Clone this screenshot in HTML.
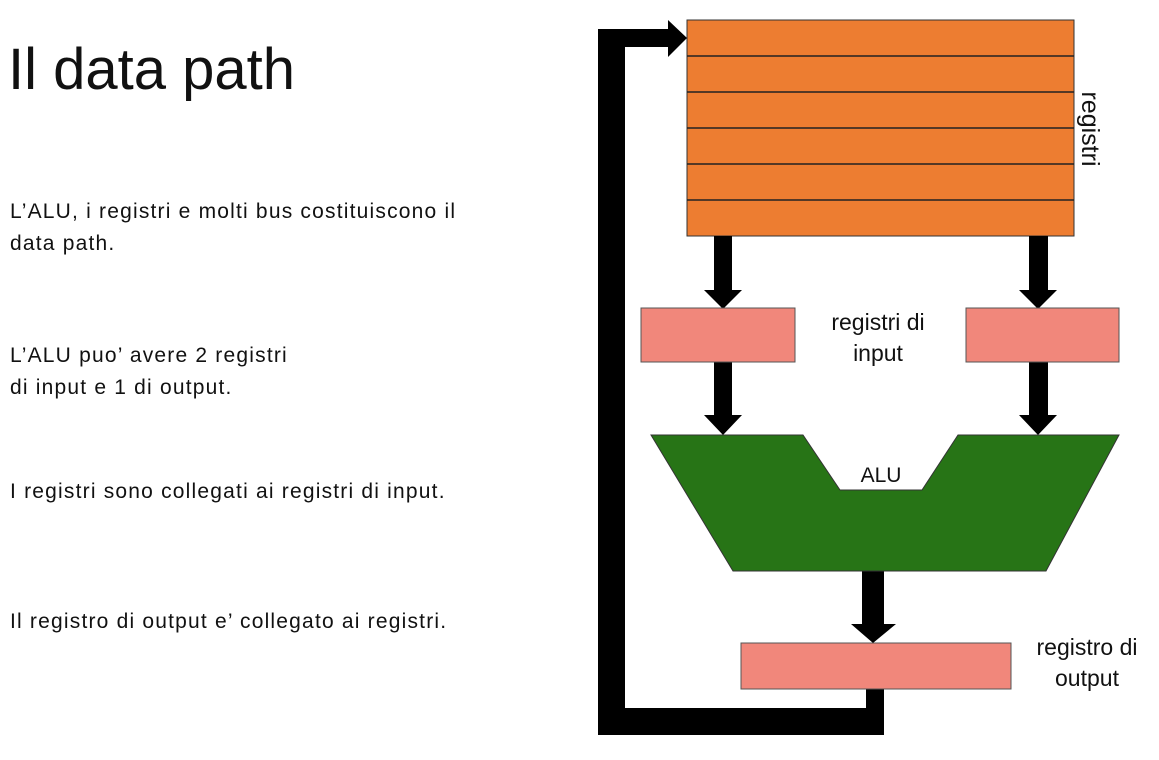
<!DOCTYPE html>
<html><head><meta charset="utf-8"><style>
body{margin:0;width:1159px;height:760px;background:#fff;position:relative;overflow:hidden;font-family:"Liberation Sans",sans-serif;color:#111}
.t{position:absolute;white-space:nowrap}
.b{font-size:21px;line-height:32px;letter-spacing:1.2px}
</style></head><body>
<div class="t" style="left:8px;top:36px;font-size:58px;font-weight:300;letter-spacing:0px">Il data path</div>
<div class="t b" style="left:10px;top:196px">L’ALU, i registri e molti bus costituiscono il<br>data path.</div>
<div class="t b" style="left:10px;top:340px">L’ALU puo’ avere 2 registri<br>di input e 1 di output.</div>
<div class="t b" style="left:10px;top:476px">I registri sono collegati ai registri di input.</div>
<div class="t b" style="left:10px;top:606px">Il registro di output e’ collegato ai registri.</div>
<svg width="1159" height="760" style="position:absolute;left:0;top:0">
<rect x="687" y="20" width="387" height="216" fill="#ed7d31" stroke="#333" stroke-width="1"/>
<g stroke="#222" stroke-width="1.5">
<line x1="687" y1="56" x2="1074" y2="56"/><line x1="687" y1="92" x2="1074" y2="92"/>
<line x1="687" y1="128" x2="1074" y2="128"/><line x1="687" y1="164" x2="1074" y2="164"/>
<line x1="687" y1="200" x2="1074" y2="200"/></g>
<text x="1082" y="129" font-size="25" fill="#111" transform="rotate(90 1082 129)" text-anchor="middle" font-family="Liberation Sans">registri</text>
<g fill="#000">
<polygon points="714,236 732,236 732,290 742,290 723,309 704,290 714,290"/>
<polygon points="1029,236 1048,236 1048,290 1057,290 1038,309 1019,290 1029,290"/>
<polygon points="714,362 732,362 732,415 742,415 723,435 704,415 714,415"/>
<polygon points="1029,362 1048,362 1048,415 1057,415 1038,435 1019,415 1029,415"/>
<polygon points="862,571 884,571 884,624 896,624 873,643 851,624 862,624"/>
<polygon points="866,689 884,689 884,735 598,735 598,29 668,29 668,20 687,38 668,57 668,47 625,47 625,708 866,708"/>
</g>
<rect x="641" y="308" width="154" height="54" fill="#f1877b" stroke="#555"/>
<rect x="966" y="308" width="153" height="54" fill="#f1877b" stroke="#555"/>
<rect x="741" y="643" width="270" height="46" fill="#f1877b" stroke="#555"/>
<polygon points="651,435 803,435 840,490 922,490 958,435 1119,435 1046,571 733,571" fill="#277416" stroke="#333"/>
<g font-family="Liberation Sans" font-size="23" fill="#111" text-anchor="middle">
<text x="878" y="330">registri di</text><text x="878" y="361">input</text>
<text x="881" y="482" font-size="21">ALU</text>
<text x="1087" y="655">registro di</text><text x="1087" y="686">output</text>
</g>
</svg>
</body></html>
